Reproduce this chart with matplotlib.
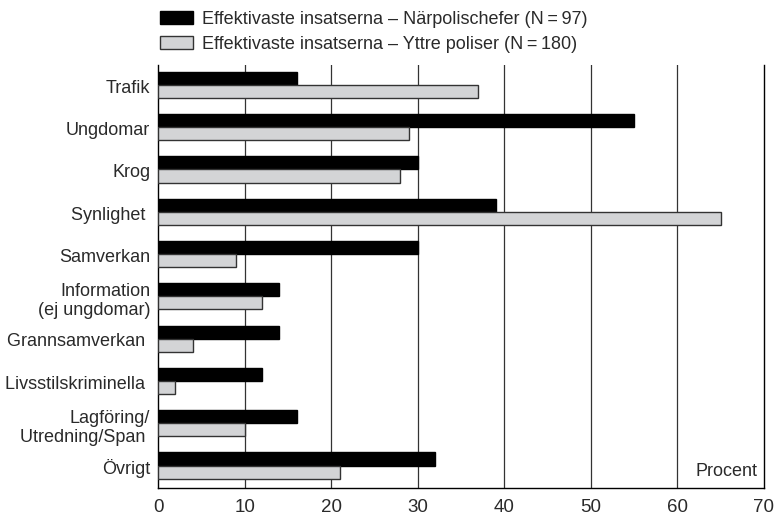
import matplotlib
matplotlib.use("Agg")
import matplotlib.pyplot as plt
import numpy as np

plt.rcParams['font.family'] = ['Liberation Sans', 'DejaVu Sans']

# data
categories = ["Trafik", "Ungdomar", "Krog", "Synlighet ", "Samverkan",
              "Information\n(ej ungdomar)", "Grannsamverkan ", "Livsstilskriminella ",
              "Lagföring/\nUtredning/Span ", "Övrigt"]
narpolischefer = [16, 55, 30, 39, 30, 14, 14, 12, 16, 32]
yttre_poliser = [37, 29, 28, 65, 9, 12, 4, 2, 10, 21]
labels = ["Effektivaste insatserna \u2013 Närpolischefer (N\u2009=\u200997)",
          "Effektivaste insatserna \u2013 Yttre poliser (N\u2009=\u2009180)"]

fig = plt.figure(figsize=(7.81, 5.21), dpi=100)
ax = fig.add_axes([158 / 781, 1 - 488 / 521, (764 - 158) / 781, (488 - 65) / 521])

y = np.arange(len(categories)) - 0.03
h = 0.31
ax.barh(y - h / 2, narpolischefer, height=h, color="black", edgecolor="black",
        linewidth=1, label=labels[0], zorder=3)
ax.barh(y + h / 2, yttre_poliser, height=h, color="#d3d4d6", edgecolor="#333333",
        linewidth=1, label=labels[1], zorder=3)

ax.set_xlim(0, 70)
ax.set_ylim(len(categories) - 0.5, -0.5)
ax.set_xticks(range(0, 71, 10))
ax.set_yticks(np.arange(len(categories)))
ax.set_yticklabels(categories, fontsize=13, linespacing=1.2, color="#2a2a2a")
ax.tick_params(axis="y", length=0, pad=5.5)
ax.tick_params(axis="x", length=0, pad=8, labelsize=13.5, labelcolor="#2a2a2a")
for g in range(10, 70, 10):
    ax.axvline(g, color="#333333", linewidth=0.9, zorder=1)

ax.spines["top"].set_visible(False)
for s in ["left", "right", "bottom"]:
    ax.spines[s].set_linewidth(1)
    ax.spines[s].set_color("black")

ax.text(0.99, 0.02, "Procent", transform=ax.transAxes, ha="right", va="bottom",
        fontsize=13, color="#2a2a2a", zorder=4)

leg = fig.legend(loc="upper left", bbox_to_anchor=(160 / 781, 1 - 11 / 521), frameon=False,
                 fontsize=13, handlelength=1.85, handleheight=0.7, handletextpad=0.5,
                 labelspacing=0.45, borderpad=0, borderaxespad=0)
for t in leg.get_texts():
    t.set_color("#2a2a2a")

fig.savefig("out.png", dpi=100)
